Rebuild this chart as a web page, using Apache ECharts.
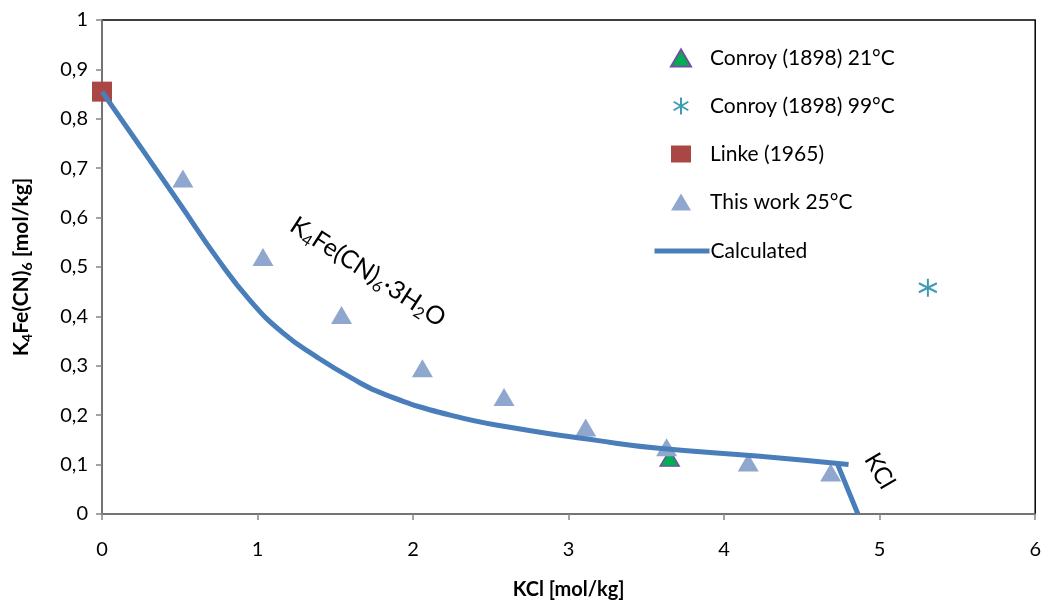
<!DOCTYPE html>
<html>
<head>
<meta charset="utf-8">
<script src="https://cdn.jsdelivr.net/npm/echarts@6/dist/echarts.min.js"></script>
<style>
  html, body { margin: 0; padding: 0; background: #fff; }
  #chart { width: 1044px; height: 605px; }
</style>
</head>
<body>
<div id="chart"></div>
<script>
// data
const conroy21X = [3.65]
const conroy21Y = [0.113]
const conroy99X = [5.31]
const conroy99Y = [0.458]
const linkeX = [0]
const linkeY = [0.855]
const thisWorkX = [0.52, 1.035, 1.54, 2.06, 2.585, 3.11, 3.63, 4.155, 4.685]
const thisWorkY = [0.679, 0.52, 0.403, 0.295, 0.237, 0.175, 0.135, 0.104, 0.084]
const calcX = [0, 0.25, 0.5, 0.74, 0.95, 1.165, 1.38, 1.6, 1.81, 2.24, 2.67, 3.18, 3.58, 4.23, 4.8]
const calcY = [0.855, 0.742, 0.628, 0.518, 0.433, 0.366, 0.318, 0.276, 0.243, 0.2, 0.173, 0.149, 0.133, 0.117, 0.1]
const kclX = [4.73, 4.86]
const kclY = [0.1, 0]
const xTicks = [0, 6, 1]
const yTicks = [0, 1, 0.1]

const FONT = 'Lato'
const pairs = (xs, ys) => xs.map((x, i) => [x, ys[i]])
const subRich = {
  b: { fontSize: 21, fontWeight: 'bold', fontFamily: FONT, lineHeight: 25, color: '#000' },
  s: { fontSize: 14, fontWeight: 'bold', fontFamily: FONT, lineHeight: 14, verticalAlign: 'bottom', color: '#000' },
  n: { fontSize: 25, fontFamily: FONT, lineHeight: 30, color: '#000' },
  ns: { fontSize: 16, fontFamily: FONT, lineHeight: 18, verticalAlign: 'bottom', color: '#000' }
}
const legendText = { fontSize: 21, fontFamily: FONT, color: '#000', lineHeight: 22 }

const asterisk = 'path://M5,0 L5,10 M0.7,2.5 L9.3,7.5 M0.7,7.5 L9.3,2.5'

const myChart = echarts.init(document.getElementById('chart'))
myChart.setOption({
  animation: false,
  grid: {
    left: 102, right: 8, top: 20, bottom: 89,
    show: true, borderColor: '#000', borderWidth: 1.5
  },
  legend: [
    {
      orient: 'vertical',
      left: 665,
      top: 42,
      itemWidth: 20,
      itemHeight: 17,
      itemGap: 26,
      textStyle: Object.assign({ padding: [0, 0, 0, 14] }, legendText),
      data: ['Conroy (1898) 21°C', 'Conroy (1898) 99°C', 'Linke (1965)', 'This work 25°C']
    },
    {
      orient: 'vertical',
      left: 647,
      top: 235,
      itemWidth: 55,
      itemHeight: 17,
      textStyle: Object.assign({ padding: [0, 0, 0, -4] }, legendText),
      data: [{ name: 'Calculated', itemStyle: { opacity: 0 }, lineStyle: { width: 5 } }]
    }
  ],
  xAxis: {
    type: 'value',
    min: xTicks[0], max: xTicks[1], interval: xTicks[2],
    name: 'KCl [mol/kg]',
    nameLocation: 'middle',
    nameGap: 66,
    nameTextStyle: { fontSize: 20, fontWeight: 'bold', fontFamily: FONT, color: '#000' },
    splitLine: { show: false },
    axisLine: { lineStyle: { color: '#868686', width: 1.5 } },
    axisTick: { inside: false, length: 6, lineStyle: { color: '#868686', width: 1.5 } },
    axisLabel: { fontSize: 20, fontFamily: FONT, color: '#000', margin: 26 }
  },
  yAxis: {
    type: 'value',
    min: yTicks[0], max: yTicks[1], interval: yTicks[2],
    name: '{b|K}{s|4}{b|Fe(CN)}{s|6}{b| [mol/kg]}',
    nameLocation: 'middle',
    nameRotate: 90,
    nameGap: 68,
    nameTextStyle: { rich: subRich },
    splitLine: { show: false },
    axisLine: { lineStyle: { color: '#868686', width: 1.5 } },
    axisTick: { inside: false, length: 6, lineStyle: { color: '#868686', width: 1.5 } },
    axisLabel: {
      fontSize: 20, fontFamily: FONT, color: '#000', margin: 14,
      formatter: v => String(Math.round(v * 10) / 10).replace('.', ',')
    }
  },
  series: [
    {
      name: 'Calculated',
      type: 'line',
      data: pairs(calcX, calcY),
      smooth: 0.5,
      symbol: 'circle',
      showSymbol: false,
      lineStyle: { color: '#4A7EBB', width: 5 },
      itemStyle: { color: '#4A7EBB' }
    },
    {
      name: 'Calculated',
      type: 'line',
      data: pairs(kclX, kclY),
      symbol: 'circle',
      showSymbol: false,
      lineStyle: { color: '#4A7EBB', width: 5 },
      itemStyle: { color: '#4A7EBB' }
    },
    {
      name: 'Conroy (1898) 21°C',
      type: 'scatter',
      data: pairs(conroy21X, conroy21Y),
      symbol: 'triangle',
      symbolSize: [19, 16],
      itemStyle: { color: '#00B050', borderColor: '#7050A0', borderWidth: 1.5, opacity: 1 }
    },
    {
      name: 'Conroy (1898) 99°C',
      type: 'scatter',
      data: pairs(conroy99X, conroy99Y),
      symbol: asterisk,
      symbolSize: 18,
      itemStyle: { color: 'rgba(0,0,0,0)', borderColor: '#3E9BB4', borderWidth: 2, opacity: 1 }
    },
    {
      name: 'Linke (1965)',
      type: 'scatter',
      data: pairs(linkeX, linkeY),
      symbol: 'rect',
      symbolSize: 20,
      itemStyle: { color: '#AA4643', opacity: 1 }
    },
    {
      name: 'This work 25°C',
      type: 'scatter',
      data: pairs(thisWorkX, thisWorkY),
      symbol: 'triangle',
      symbolSize: [21, 18],
      itemStyle: { color: '#8FA6CE', opacity: 1 }
    }
  ]
})

// rotated annotations placed in data coordinates
const p1 = myChart.convertToPixel({ gridIndex: 0 }, [1.71, 0.49])
const p2 = myChart.convertToPixel({ gridIndex: 0 }, [5.0, 0.087])
myChart.setOption({
  graphic: [
    {
      type: 'text',
      x: p1[0], y: p1[1],
      rotation: -33 * Math.PI / 180,
      style: {
        text: '{n|K}{ns|4}{n|Fe(CN)}{ns|6}{n|·3H}{ns|2}{n|O}',
        rich: subRich,
        align: 'center',
        verticalAlign: 'middle'
      }
    },
    {
      type: 'text',
      x: p2[0], y: p2[1],
      rotation: -60 * Math.PI / 180,
      style: {
        text: 'KCl',
        font: '24px ' + FONT,
        fill: '#000',
        align: 'center',
        verticalAlign: 'middle'
      }
    }
  ]
})
</script>
</body>
</html>
